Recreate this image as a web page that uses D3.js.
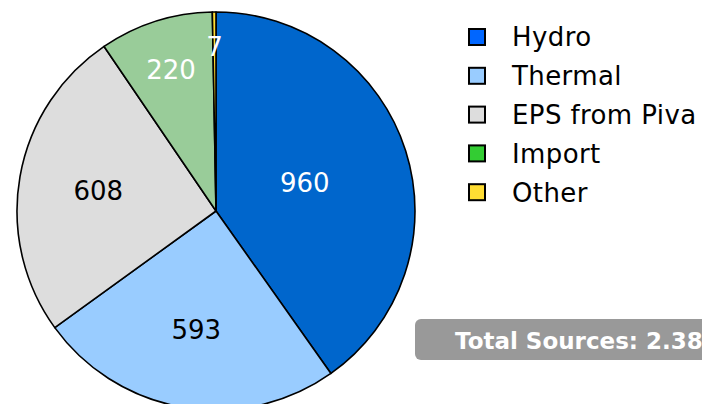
<!DOCTYPE html>
<head>
  <meta charset="utf-8">
  <script src="https://d3js.org/d3.v7.min.js"></script>
  <style>
    body { margin: 0; background: #fff; }
    svg { width: 702px; height: 404px; display: block; font-family: "DejaVu Sans", Verdana, sans-serif; }
  </style>
</head>

<body>
  <svg></svg>
  <script>
    var sources = ['Hydro', 'Thermal', 'EPS from Piva', 'Import', 'Other'];
    var amounts = [960, 593, 608, 220, 7];

    // slice fills and legend swatches differ a little in the original
    var sliceColors = ['#0066cc', '#99ccff', '#dddddd', '#99cc99', '#ffdd33'];
    var swatchColors = ['#0066ff', '#99ccff', '#dddddd', '#33cc33', '#ffdd33'];
    var labelColors = ['#fff', '#000', '#000', '#fff', '#fff'];

    var svg = d3.select('svg');
    var radius = 199;
    var cx = 216, cy = 211;

    var pie = d3.pie().sort(null).value(function(d) { return d; });
    var arcs = pie(amounts);
    var arc = d3.arc().innerRadius(0).outerRadius(radius);

    var g = svg.append('g')
      .attr('transform', 'translate(' + [cx, cy] + ')');

    g.selectAll('path.slice')
      .data(arcs).enter().append('path')
      .classed('slice', true)
      .attr('d', arc)
      .attr('fill', function(d, i) { return sliceColors[i]; })
      .attr('stroke', '#000')
      .attr('stroke-width', 1.6)
      .attr('stroke-linejoin', 'round');

    // narrower slices get their label pushed further out
    g.selectAll('text.val')
      .data(arcs).enter().append('text')
      .classed('val', true)
      .attr('transform', function(d) {
        var deg = (d.endAngle - d.startAngle) * 180 / Math.PI;
        var r = radius * (0.83 - 0.0025 * deg);
        var a = (d.startAngle + d.endAngle) / 2;
        return 'translate(' + [Math.sin(a) * r, -Math.cos(a) * r] + ')';
      })
      .attr('text-anchor', 'middle')
      .attr('dy', '0.36em')
      .attr('font-size', 26)
      .attr('fill', function(d, i) { return labelColors[i]; })
      .text(function(d) { return d.data; });

    var legend = svg.append('g')
      .attr('transform', 'translate(468,37)');

    var rows = legend.selectAll('g.row')
      .data(sources).enter().append('g')
      .classed('row', true)
      .attr('transform', function(d, i) { return 'translate(0,' + (i * 38.8) + ')'; });

    rows.append('rect')
      .attr('x', 1).attr('y', -8)
      .attr('width', 16).attr('height', 16)
      .attr('fill', function(d, i) { return swatchColors[i]; })
      .attr('stroke', '#000')
      .attr('stroke-width', 2);

    rows.append('text')
      .attr('x', 44)
      .attr('dy', '0.36em')
      .attr('font-size', 26)
      .attr('letter-spacing', 0.4)
      .attr('fill', '#000')
      .text(function(d) { return d; });

    var total = d3.sum(amounts);
    var box = svg.append('g').attr('transform', 'translate(415,319)');
    box.append('rect')
      .attr('width', 320).attr('height', 41)
      .attr('rx', 6)
      .attr('fill', '#999999');
    box.append('text')
      .attr('x', 40).attr('y', 22)
      .attr('dy', '0.36em')
      .attr('font-size', 23)
      .attr('font-weight', 'bold')
      .attr('fill', '#fff')
      .text('Total Sources: ' + d3.format('.3f')(total / 1000));
  </script>
</body>
